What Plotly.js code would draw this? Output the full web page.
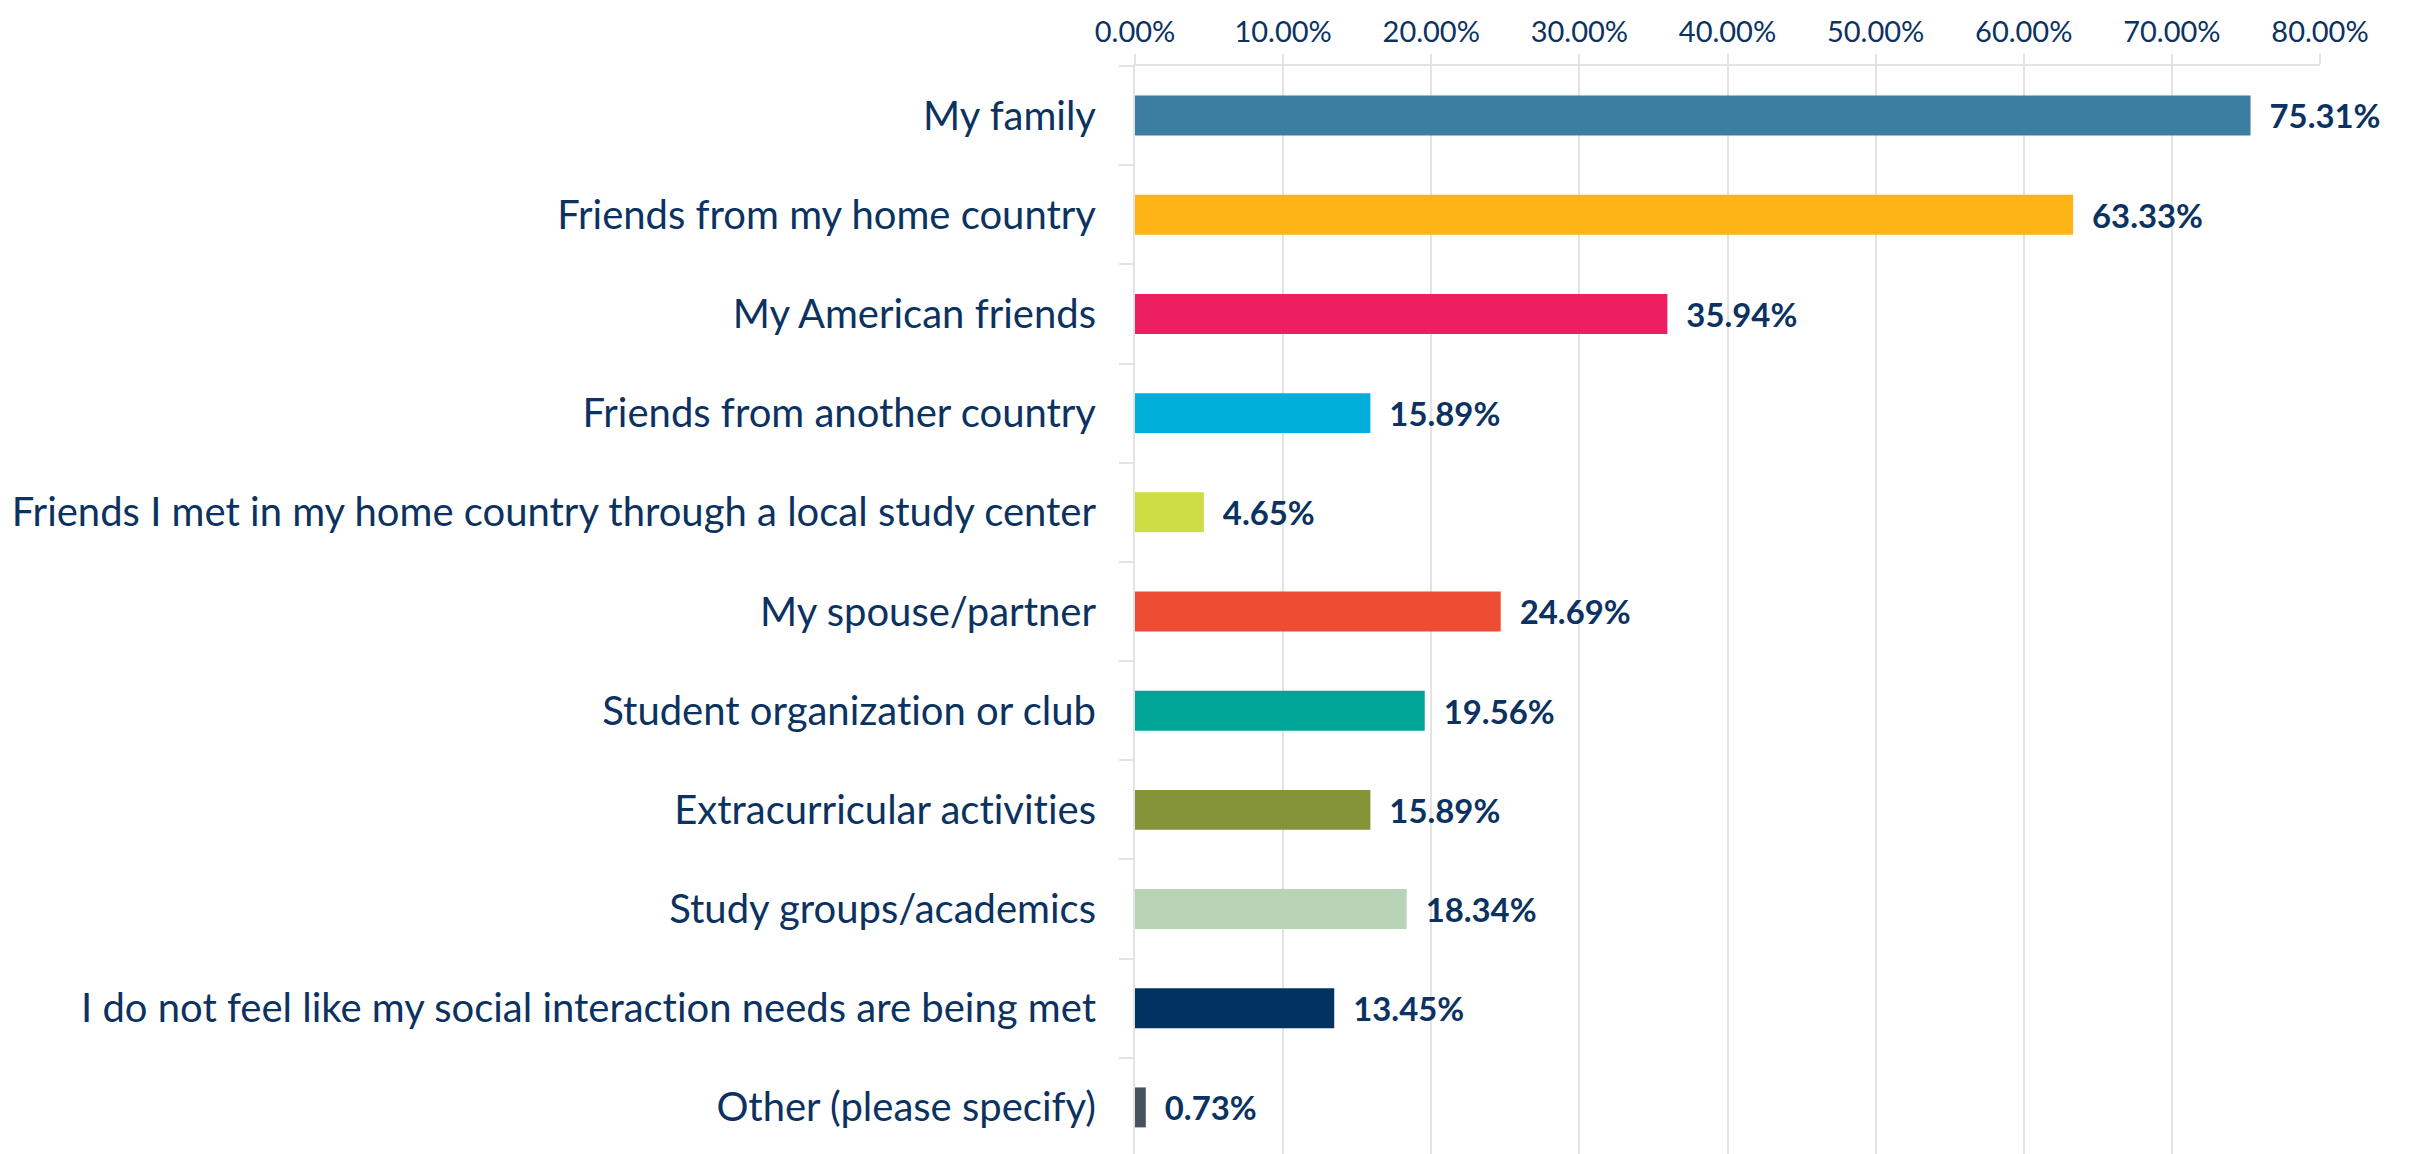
<!DOCTYPE html>
<html>
<head>
<meta charset="utf-8">
<script src="https://cdn.plot.ly/plotly-3.0.1.min.js"></script>
<style>
html, body { margin: 0; padding: 0; background: #fff; overflow: hidden; }
#chart { width: 2410px; height: 1157px; }
#chart text { font-variant-ligatures: none; font-feature-settings: "liga" 0, "clig" 0; }
</style>
</head>
<body>
<div id="chart"></div>
<script>
const categories = [
  "My family",
  "Friends from my home country",
  "My American friends",
  "Friends from another country",
  "Friends I met in my home country through a local study center",
  "My spouse/partner",
  "Student organization or club",
  "Extracurricular activities",
  "Study groups/academics",
  "I do not feel like my social interaction needs are being met",
  "Other (please specify)"
];
const values = [0.7531, 0.6333, 0.3594, 0.1589, 0.0465, 0.2469, 0.1956, 0.1589, 0.1834, 0.1345, 0.0073];
const barColors = ["#3B7EA1", "#FDB515", "#EE1F60", "#00B0DA", "#CFDD45", "#ED4E33", "#00A598", "#859438", "#B9D3B6", "#003262", "#46535E"];
const tickVals = [0, 0.1, 0.2, 0.3, 0.4, 0.5, 0.6, 0.7, 0.8];
const tickLabels = ["0.00%", "10.00%", "20.00%", "30.00%", "40.00%", "50.00%", "60.00%", "70.00%", "80.00%"];

const navy = "#0b3260";
const grid = "#e3e3e3";

const labels = values.map(v => "\u00a0\u00a0" + (v * 100).toFixed(2) + "%");

const trace = {
  type: "bar",
  orientation: "h",
  x: values,
  y: categories,
  marker: { color: barColors },
  text: labels,
  textposition: "outside",
  textfont: { family: "Lato", size: 37, color: navy, weight: "bold" },
  cliponaxis: false,
  hoverinfo: "none"
};

const layout = {
  width: 2410,
  height: 1157,
  margin: { l: 1135, r: 90, t: 66, b: 0, pad: 0 },
  paper_bgcolor: "#ffffff",
  plot_bgcolor: "#ffffff",
  showlegend: false,
  bargap: 0.597,
  font: { family: "Lato", color: navy },
  xaxis: {
    side: "top",
    range: [0, 0.8],
    tickvals: tickVals,
    ticktext: tickLabels,
    tickfont: { family: "Lato", size: 29, color: navy },
    showgrid: true,
    gridcolor: grid,
    gridwidth: 2,
    zeroline: false,
    showline: true,
    linecolor: grid,
    linewidth: 2,
    ticks: "outside",
    ticklen: 10,
    tickwidth: 2,
    tickcolor: grid,
    fixedrange: true
  },
  yaxis: {
    type: "category",
    autorange: "reversed",
    tickfont: { family: "Lato", size: 40, color: navy },
    showgrid: false,
    zeroline: false,
    showline: true,
    linecolor: grid,
    linewidth: 2,
    ticks: "outside",
    tickson: "boundaries",
    ticklen: 14,
    tickwidth: 2,
    tickcolor: grid,
    ticklabelstandoff: 29,
    fixedrange: true
  }
};

Plotly.newPlot("chart", [trace], layout, { staticPlot: true, displayModeBar: false });
</script>
</body>
</html>
